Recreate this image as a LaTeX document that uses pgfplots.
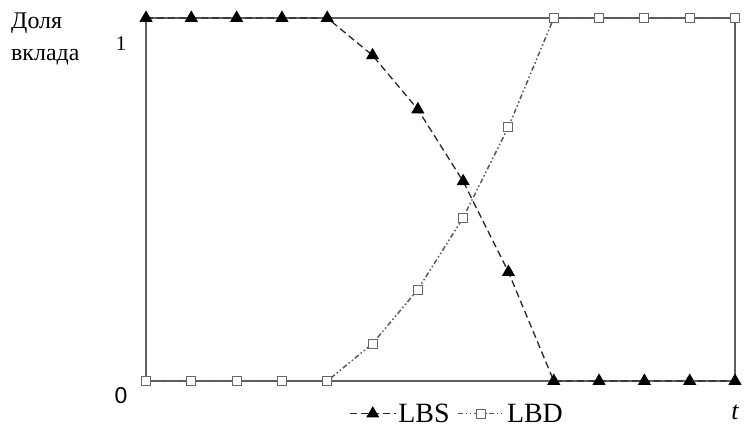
\documentclass[border=0pt]{standalone}
\usepackage{fontspec}
\setmainfont{Liberation Serif}
\newfontfamily\arialfont{Liberation Sans}
\usepackage{pgfplots}
\pgfplotsset{compat=1.18}
\begin{document}
\begin{tikzpicture}[x=1bp,y=1bp]
\useasboundingbox (0,0) rectangle (744,427);
\node[anchor=base west, align=left, font=\fontsize{24}{31}\selectfont, inner sep=0pt] at (11,398) {Доля};
\node[anchor=base west, align=left, font=\fontsize{24}{31}\selectfont, inner sep=0pt] at (11,367) {вклада};
\node[font=\fontsize{21}{24}\selectfont, inner sep=0pt] at (121,383.5) {1};
\node[font=\fontsize{23}{26}\selectfont\arialfont, inner sep=0pt] at (121,31) {0};
\node[anchor=base, font=\fontsize{26}{30}\selectfont\itshape, inner sep=0pt] at (735,8) {t};
\begin{axis}[
  at={(146bp,46bp)}, anchor=south west, scale only axis,
  width=589bp, height=363bp,
  xmin=0, xmax=13, ymin=0, ymax=1,
  xtick=\empty, ytick=\empty,
  axis line style={draw=gray!75!black, line width=1.3bp},
  clip=false,
  legend columns=2,
  legend style={at={(0.528,-0.09)}, anchor=center, draw=none, fill=none,
    font=\fontsize{28}{30}\selectfont, inner sep=0pt,
    nodes={inner sep=2bp},
    /tikz/every even column/.append style={column sep=6bp}},
  legend image code/.code={\draw[mark repeat=2,mark phase=2] plot coordinates {(0bp,0bp)(23bp,0bp)(46bp,0bp)};},
]
\addplot[color=black!85, line width=1.3bp, dash pattern=on 7bp off 4bp,
  mark=triangle*, mark size=6.3bp, mark options={solid, fill=black, draw=black}]
coordinates {(0,1)(1,1)(2,1)(3,1)(4,1)(5,0.897)(6,0.748)(7,0.55)(8,0.3)(9,0)(10,0)(11,0)(12,0)(13,0)};
\addlegendentry{LBS}
\addplot[color=gray!70!black, line width=1.5bp, dash pattern=on 5bp off 2.5bp on 1.5bp off 2.5bp on 1.5bp off 2.5bp,
  mark=square*, mark size=4.5bp, mark options={solid, fill=white, draw=gray!80!black, line width=1bp}]
coordinates {(0,0)(1,0)(2,0)(3,0)(4,0)(5,0.103)(6,0.252)(7,0.45)(8,0.7)(9,1)(10,1)(11,1)(12,1)(13,1)};
\addlegendentry{LBD}
\end{axis}
\end{tikzpicture}
\end{document}
